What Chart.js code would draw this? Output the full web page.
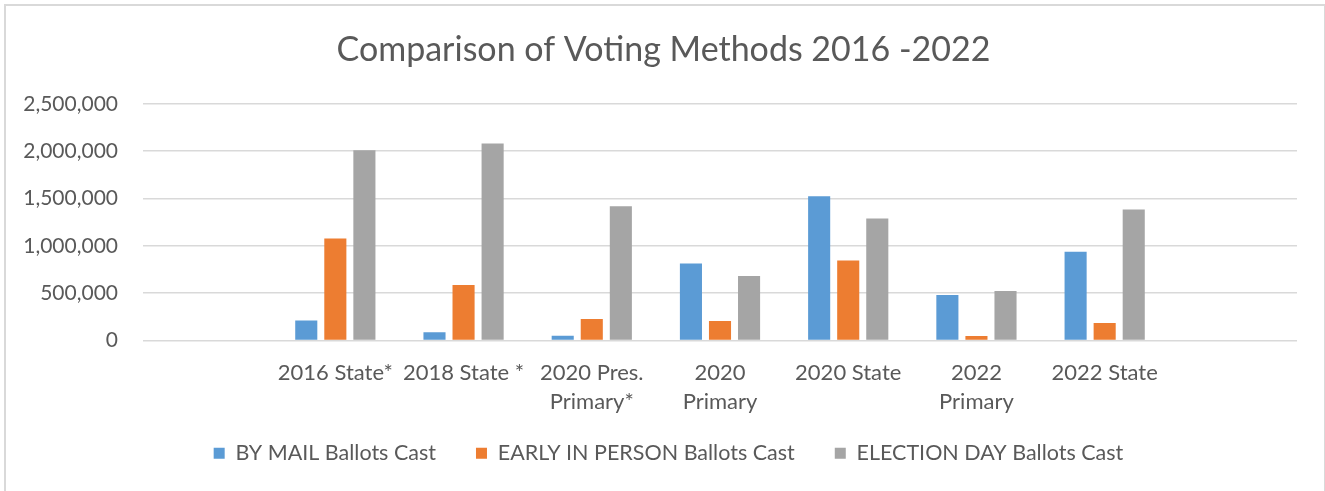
<!DOCTYPE html>
<html>
<head>
<meta charset="utf-8">
<script src="https://cdn.jsdelivr.net/npm/chart.js@4"></script>
<style>
  body { margin: 0; background: #fff; overflow: hidden; }
  #frame { position: absolute; left: 4px; top: 4px; width: 1318px; height: 600px; border: 2px solid #D9D9D9; }
  #wrap { position: absolute; left: 0; top: 0; width: 1325px; height: 491px; }
</style>
</head>
<body>
<div id="frame"></div>
<div id="wrap"><canvas id="myChart"></canvas></div>
<script>
// categories (empty slots at both ends, like the original)
var categories = ['', '2016 State*', '2018 State *', ['2020 Pres.', 'Primary*'], ['2020', 'Primary'], '2020 State', ['2022', 'Primary'], '2022 State', ''];
var byMail = [null, 210000, 87000, 50000, 814000, 1524000, 480000, 937000, null];
var earlyInPerson = [null, 1078000, 585000, 227000, 206000, 846000, 47000, 185000, null];
var electionDay = [null, 2010000, 2080000, 1419000, 680000, 1289000, 522000, 1384000, null];
var yTicks = [0, 500000, 1000000, 1500000, 2000000, 2500000];

var txt = '#595959';
var fam = 'Lato, "Open Sans", sans-serif';

// nudge title and legend so they sit where the original has them
var boxShift = {
    id: 'boxShift',
    afterLayout: function (chart) {
        var lg = chart.legend;
        lg.top -= 18; lg.bottom -= 18;
        lg.left += 20; lg.right += 20;
        var t = chart.titleBlock;
        t.left += 15; t.right += 15;
    }
};

const ctx = document.getElementById('myChart');
new Chart(ctx, {
    type: 'bar',
    data: {
        labels: categories,
        datasets: [{
            label: 'BY MAIL Ballots Cast',
            data: byMail,
            backgroundColor: '#5B9BD5'
        }, {
            label: 'EARLY IN PERSON Ballots Cast',
            data: earlyInPerson,
            backgroundColor: '#ED7D31'
        }, {
            label: 'ELECTION DAY Ballots Cast',
            data: electionDay,
            backgroundColor: '#A5A5A5'
        }]
    },
    plugins: [boxShift],
    options: {
        responsive: true,
        maintainAspectRatio: false,
        animation: false,
        categoryPercentage: 0.68,
        barPercentage: 0.76,
        layout: { padding: { left: 0, right: 28, top: 30, bottom: 4 } },
        plugins: {
            title: {
                display: true,
                text: 'Comparison of Voting Methods 2016 -2022',
                color: txt,
                font: { family: fam, size: 34, weight: 'normal' },
                padding: { top: 0, bottom: 33 }
            },
            legend: {
                position: 'bottom',
                maxHeight: 66.5,
                labels: {
                    color: txt,
                    font: { family: fam, size: 21.5 },
                    boxWidth: 11,
                    boxHeight: 11,
                    padding: 40
                }
            },
            tooltip: { enabled: false }
        },
        scales: {
            x: {
                grid: { display: false },
                border: { display: false },
                ticks: {
                    color: txt,
                    font: { family: fam, size: 22, lineHeight: 1.32 },
                    padding: 10,
                    maxRotation: 0,
                    autoSkip: false
                },
                afterFit: function (s) { s.height = 80; }
            },
            y: {
                min: 0,
                max: 2500000,
                afterBuildTicks: function (s) { s.ticks = yTicks.map(function (v) { return { value: v }; }); },
                grid: { color: '#D9D9D9', lineWidth: 1.5, drawTicks: false },
                border: { display: false },
                ticks: {
                    color: txt,
                    font: { family: fam, size: 21 },
                    padding: 25,
                    callback: function (v) { return v.toLocaleString('en-US'); }
                },
                afterFit: function (s) { s.width = 143; }
            }
        }
    }
});
</script>
</body>
</html>
